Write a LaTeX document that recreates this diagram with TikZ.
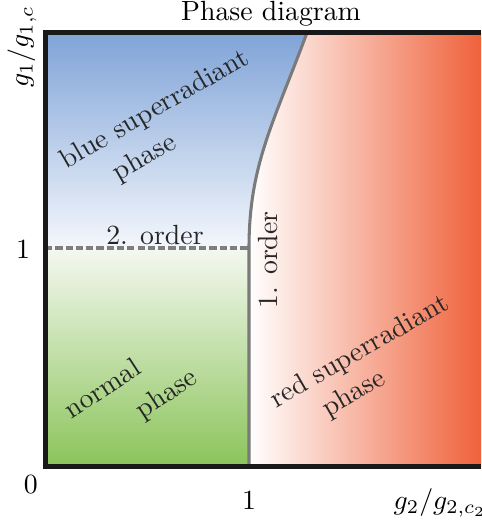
\documentclass[tikz,border=0pt]{standalone}
\usepackage{amsmath}
\usetikzlibrary{positioning,calc}
\definecolor{blueTop}{HTML}{7FA3D7}
\definecolor{blueLow}{HTML}{F4F7FC}
\definecolor{greenLow}{HTML}{8BC45A}
\definecolor{greenTop}{HTML}{F4F8F0}
\definecolor{redRight}{HTML}{EF623B}
\definecolor{borderGray}{HTML}{7A7A7A}
\definecolor{dashGray}{HTML}{7E7E7E}
\tikzset{
    frame/.style={draw=black!90,line width=1.8pt},
    borderline/.style={draw=borderGray,line width=1.1pt},
    orderline/.style={draw=dashGray,line width=1.25pt,dash pattern=on 2.6pt off 1.1pt},
    phaselabel/.style={inner sep=0pt,align=center,font=\normalsize,text=black!85},
    ticklabel/.style={inner sep=0pt,font=\normalsize}
}

\begin{document}
\begin{tikzpicture}[x=73.44pt,y=78.84pt]
    \useasboundingbox (-0.2206,-0.2466) rectangle (2.1373,2.1324);
    % phase regions
    \shade[top color=blueTop,bottom color=blueLow] (0,1) -- (0,1.985) -- (1.285,1.985)
        .. controls (1.12,1.57) and (1,1.38) .. (1,1) -- cycle;
    \shade[top color=greenTop,bottom color=greenLow] (0,0) rectangle (1,1);
    \shade[left color=white,right color=redRight] (1,0) -- (1,1)
        .. controls (1,1.38) and (1.12,1.57) .. (1.285,1.985) -- (2.1373,1.985) -- (2.1373,0) -- cycle;
    % transitions
    \draw[orderline] (0,1) -- (1,1);
    \draw[borderline] (1,0) -- (1,1) .. controls (1,1.38) and (1.12,1.57) .. (1.285,1.985);
    \draw[frame] (2.1373,1.985) -- (0,1.985) -- (0,0) -- (2.1373,0);
    % labels
    \node[ticklabel,anchor=base] (title) at (1.108,2.041) {Phase diagram};
    \node[ticklabel,rotate=90] (ylab) at (-0.113,1.918) {$g_1/g_{1,c}$};
    \node[ticklabel] (yone) at (-0.108,0.995) {1};
    \node[ticklabel] (zero) at (-0.069,-0.082) {0};
    \node[ticklabel] (xone) at (1.0,-0.151) {1};
    \node[ticklabel] (xlab) at (1.936,-0.164) {$g_2/g_{2,c_2}$};
    \node[phaselabel,anchor=base] (second) at (0.539,1.014) {2. order};
    \node[phaselabel,rotate=90] (first) at (1.093,0.945) {1. order};
    \node[phaselabel,rotate=30] (blueA) at (0.539,1.630) {blue superradiant};
    \node[phaselabel,rotate=30] (blueB) at (0.490,1.411) {phase};
    \node[phaselabel,rotate=33] (normA) at (0.279,0.361) {normal};
    \node[phaselabel,rotate=33] (normB) at (0.598,0.329) {phase};
    \node[phaselabel,rotate=30] (redA) at (1.544,0.525) {red superradiant};
    \node[phaselabel,rotate=30] (redB) at (1.515,0.333) {phase};
\end{tikzpicture}
\end{document}
